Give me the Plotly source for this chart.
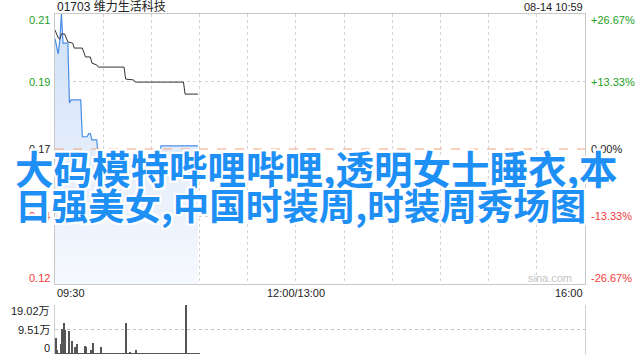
import plotly.graph_objects as go

# ---------------- data ----------------
prev_close = 0.165
pct_levels = [0.2667, 0.1333, 0.0, -0.1333, -0.2667]
price_tick_labels = ["0.21", "0.19", "0.17", "0.14", "0.12"]
pct_tick_labels = ["+26.67%", "+13.33%", "0.00%", "-13.33%", "-26.67%"]
tick_colors = ["#1ea01e", "#1ea01e", "#222222", "#f03c3c", "#f03c3c"]

time_tickvals = [0, 150, 330]
time_ticktext = ["09:30", "12:00/13:00", "16:00"]
grid_minutes = [0, 30, 60, 90, 120, 150, 180, 210, 240, 270, 300, 330]

# price line (minutes after 09:30)
price_min = [0, 1, 2, 3, 4, 5, 6, 8, 9, 10, 16, 17, 20, 21, 22, 23, 26, 27, 65, 66, 89]
price_val = [0.201, 0.198, 0.196, 0.2005, 0.209, 0.1995, 0.1995, 0.1995, 0.180, 0.181,
             0.181, 0.169, 0.169, 0.170, 0.170, 0.168, 0.168, 0.162, 0.162, 0.166, 0.166]

# average price line
avg_min = [0, 2, 3, 4, 6, 8, 11, 12, 17, 19, 22, 23, 26, 27, 43, 44, 49, 50, 80, 81, 89]
avg_val = [0.2038, 0.2012, 0.2008, 0.2025, 0.2025, 0.1999, 0.1995, 0.1979, 0.1979, 0.195,
           0.195, 0.193, 0.1924, 0.1917, 0.1917, 0.1878, 0.1875, 0.1868, 0.1868, 0.1829, 0.1829]

# volume (万) per minute, minutes 0..89
vol_min = list(range(90))
vol_val = [6.2, 1.6, 0.25, 3.9, 9.7, 12.0, 9.3, 0.25, 8.9, 0.25,
           5.0, 0.25, 2.7, 3.9, 0.25, 0.25, 0.25, 0.25, 3.1, 2.7,
           0.25, 0.25, 1.6, 4.3, 0.25, 0.25, 0.25, 0.25, 2.7, 0.25,
           0.25, 0.25, 0.25, 0.25, 0.25, 0.25, 0.25, 0.25, 0.25, 0.25,
           0.25, 0.25, 0.25, 0.25, 12.0, 0.25, 0.8, 0.25, 0.25, 0.25,
           1.6, 0.25, 0.25, 0.25, 0.25, 0.25, 0.25, 0.25, 0.25, 0.25,
           0.25, 0.25, 0.25, 0.25, 0.25, 0.25, 0.25, 0.25, 0.25, 0.25,
           0.25, 0.25, 0.25, 0.25, 0.25, 0.25, 0.25, 0.25, 0.25, 0.25,
           0.25, 19.02, 0.25, 0.25, 0.25, 0.25, 0.25, 0.25, 0.25, 0.25]
vol_tickvals = [0, 9.51, 19.02]
vol_ticktext = ["0", "9.51万", "19.02万"]

title_text = "01703 维力生活科技"
time_text = "08-14 10:59"
watermark = "sina.com"
overlay_lines = ["大码模特哔哩哔哩,透明女士睡衣,本", "日强美女,中国时装周,时装周秀场图"]

# ---------------- figure ----------------
W, H = 640, 360
FONT = "Liberation Sans, Arial, Noto Sans CJK SC, sans-serif"
levels = [prev_close * (1 + p) for p in pct_levels]
y_lo, y_hi = levels[-1], levels[0]

fig = go.Figure()

# baseline for the filled area
fig.add_trace(go.Scatter(x=[price_min[0], price_min[-1]], y=[y_lo, y_lo], mode="lines",
                         line=dict(width=0, color="rgba(0,0,0,0)"), showlegend=False,
                         hoverinfo="skip", xaxis="x", yaxis="y"))
fig.add_trace(go.Scatter(x=price_min, y=price_val, mode="lines", line=dict(color="#4a8ee6", width=1.2),
                         fill="tonexty",
                         fillgradient=dict(type="vertical",
                                           colorscale=[[0, "rgb(246,249,254)"], [1, "rgb(208,224,248)"]],
                                           start=y_lo, stop=y_hi),
                         showlegend=False, xaxis="x", yaxis="y"))
fig.add_trace(go.Scatter(x=avg_min, y=avg_val, mode="lines", line=dict(color="#333333", width=1),
                         showlegend=False, xaxis="x", yaxis="y"))
fig.add_trace(go.Bar(x=vol_min, y=vol_val, width=0.65, marker=dict(color="#555555", line=dict(width=0)),
                     showlegend=False, xaxis="x2", yaxis="y2"))

x0, x1 = 55 / W, 585 / W
fig.update_layout(
    width=W, height=H, margin=dict(l=0, r=0, t=0, b=0),
    paper_bgcolor="white", plot_bgcolor="white",
    font=dict(family=FONT, size=11, color="#333"),
    xaxis=dict(domain=[x0, x1], range=[0, 330], tickvals=grid_minutes, showticklabels=False,
               showgrid=True, gridcolor="#d4d4d4", griddash="dot", gridwidth=1,
               showline=True, mirror=True, linecolor="#c8c8c8", zeroline=False, ticks=""),
    yaxis=dict(domain=[1 - 284 / H, 1 - 14 / H], range=[y_lo, y_hi],
               tickvals=[levels[1], levels[3]], showticklabels=False,
               showgrid=True, gridcolor="#d4d4d4", griddash="dot",
               showline=True, mirror=True, linecolor="#c8c8c8", zeroline=False, ticks=""),
    xaxis2=dict(domain=[x0, x1], range=[-0.5, 330], anchor="y2", showticklabels=False, showgrid=False,
                showline=False, zeroline=False),
    yaxis2=dict(domain=[1 - 354 / H, 1 - 305 / H], range=[0, 19.02], anchor="x2",
                tickvals=vol_tickvals, showticklabels=False, showgrid=True, gridcolor="#c4c4c4",
                griddash="dot", showline=True, mirror=True, linecolor="#d0d0d0", zeroline=False),
    bargap=0,
)

# previous close line
fig.add_shape(type="line", xref="x", yref="y", x0=0, x1=330, y0=prev_close, y1=prev_close,
              line=dict(color="#f0a47a", width=1, dash="dash"))

ann = []
shifts = [-6, 0, 0, 0, 6]
for lv, lab, pl, c, s in zip(levels, price_tick_labels, pct_tick_labels, tick_colors, shifts):
    ann.append(dict(x=52 / W, xref="paper", y=lv, yref="y", text=lab, showarrow=False,
                    xanchor="right", yanchor="middle", yshift=s, font=dict(color=c, size=11)))
    ann.append(dict(x=589 / W, xref="paper", y=lv, yref="y", text=pl, showarrow=False,
                    xanchor="left", yanchor="middle", yshift=s, font=dict(color=c, size=11)))

anchors = ["left", "center", "right"]
for tv, tt, a in zip(time_tickvals, time_ticktext, anchors):
    ann.append(dict(x=tv, xref="x", y=1 - 293 / H, yref="paper", text=tt, showarrow=False,
                    xanchor=a, yanchor="middle", font=dict(color="#222", size=11)))

vshift = [6, 0, -6]
for tv, tt, s in zip(vol_tickvals, vol_ticktext, vshift):
    ann.append(dict(x=52 / W, xref="paper", y=tv, yref="y2", text=tt, showarrow=False,
                    xanchor="right", yanchor="middle", yshift=s, font=dict(color="#222", size=11)))

ann.append(dict(x=55 / W, xref="paper", y=1 - 7 / H, yref="paper", text=title_text, showarrow=False,
                xanchor="left", yanchor="middle", font=dict(color="#222", size=12)))
ann.append(dict(x=585 / W, xref="paper", y=1 - 7 / H, yref="paper", text=time_text, showarrow=False,
                xanchor="right", yanchor="middle", font=dict(color="#222", size=11)))
ann.append(dict(x=574 / W, xref="paper", y=1 - 278 / H, yref="paper", text=watermark, showarrow=False,
                xanchor="right", yanchor="middle", font=dict(color="#c4c4c4", size=11)))

shadow = ", ".join(f"{dx}px {dy}px 0 #fff" for dx, dy in
                   [(2, 0), (-2, 0), (0, 2), (0, -2), (2, 2), (-2, -2), (2, -2), (-2, 2)])
for line, yc, fs in zip(overlay_lines, [167, 204], [38.5, 36.5]):
    ann.append(dict(x=13 / W, xref="paper", y=1 - yc / H, yref="paper", text=line, showarrow=False,
                    xanchor="left", yanchor="middle",
                    font=dict(family="Noto Sans CJK SC", size=fs, color="#1e8ff5", weight="bold",
                              shadow=shadow)))

fig.update_layout(annotations=ann)
fig.write_html("out.html")
